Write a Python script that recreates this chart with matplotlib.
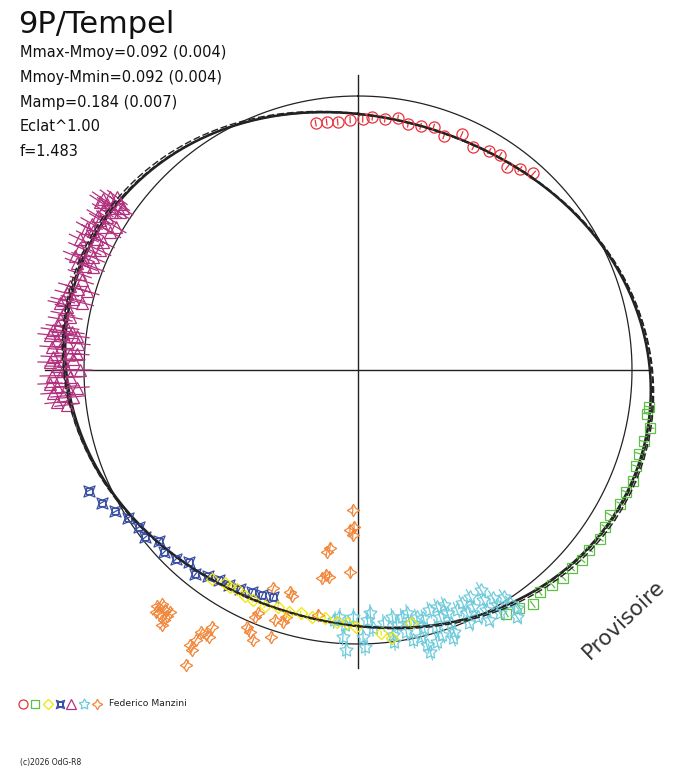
import numpy as np
import matplotlib.pyplot as plt
from matplotlib.path import Path

plt.rcParams['font.family'] = ['DejaVu Sans']

# phase (0..1, clockwise from top) and Mmoy - M (mag), one pair per measure
red_phase = [0.973, 0.980, 0.987, 0.995, 0.003, 0.009, 0.017, 0.025, 0.032, 0.040,
             0.048, 0.056, 0.066, 0.076, 0.086, 0.093, 0.101, 0.108, 0.116]
red_dm = [-0.098, -0.100, -0.105, -0.099, -0.096, -0.086, -0.090, -0.079, -0.096, -0.093,
          -0.082, -0.103, -0.069, -0.095, -0.078, -0.068, -0.093, -0.066, -0.044]

green_phase = [0.270, 0.274, 0.281, 0.289, 0.296, 0.303, 0.311, 0.318, 0.325, 0.333, 0.340,
               0.347, 0.355, 0.362, 0.369, 0.376, 0.383, 0.391, 0.398, 0.405, 0.413]
green_dm = [0.080, 0.076, 0.099, 0.086, 0.080, 0.085, 0.093, 0.085, 0.085, 0.068, 0.078,
            0.088, 0.079, 0.082, 0.073, 0.075, 0.065, 0.054, 0.076, 0.055, 0.046]

yellow_phase = [0.597, 0.589, 0.585, 0.580, 0.574, 0.568, 0.560, 0.552, 0.544, 0.537,
                0.529, 0.521, 0.513, 0.507, 0.501, 0.486, 0.480, 0.467]
yellow_dm = [-0.082, -0.095, -0.092, -0.099, -0.089, -0.088, -0.085, -0.100, -0.093, -0.102,
             -0.095, -0.099, -0.088, -0.087, -0.071, -0.041, -0.016, -0.064]

blue_phase = [0.683, 0.674, 0.666, 0.659, 0.651, 0.644, 0.637, 0.630, 0.622, 0.615,
              0.607, 0.600, 0.593, 0.586, 0.579, 0.571, 0.564, 0.557]
blue_dm = [0.088, 0.060, 0.029, -0.002, -0.021, -0.014, -0.048, -0.033, -0.048, -0.076,
           -0.054, -0.080, -0.092, -0.099, -0.105, -0.117, -0.124, -0.132]

magenta_phase = [0.844, 0.847, 0.849, 0.847, 0.843, 0.843, 0.842, 0.839, 0.841, 0.843,
                 0.846, 0.835, 0.830, 0.834, 0.837, 0.827, 0.827, 0.831, 0.831, 0.835,
                 0.823, 0.820, 0.824, 0.824, 0.816, 0.817, 0.819, 0.811, 0.812, 0.814,
                 0.808, 0.808, 0.809, 0.803, 0.800, 0.795, 0.795, 0.795, 0.791, 0.787,
                 0.789, 0.788, 0.785, 0.784, 0.780, 0.779, 0.777, 0.773, 0.773, 0.771,
                 0.768, 0.770, 0.771, 0.769, 0.766, 0.765, 0.765, 0.762, 0.761, 0.759,
                 0.759, 0.757, 0.755, 0.756, 0.754, 0.752, 0.750, 0.750, 0.747, 0.746,
                 0.746, 0.743, 0.741, 0.741, 0.740, 0.738, 0.736, 0.735, 0.733, 0.731]
magenta_dm = [0.140, 0.118, 0.092, 0.070, 0.085, 0.110, 0.141, 0.113, 0.077, 0.049,
              0.048, 0.119, 0.125, 0.102, 0.083, 0.133, 0.107, 0.077, 0.041, 0.032,
              0.116, 0.137, 0.077, 0.045, 0.125, 0.082, 0.044, 0.131, 0.097, 0.057,
              0.113, 0.074, 0.043, 0.085, 0.068, 0.107, 0.074, 0.033, 0.113, 0.122,
              0.083, 0.043, 0.131, 0.099, 0.110, 0.078, 0.117, 0.084, 0.121, 0.140,
              0.150, 0.097, 0.060, 0.037, 0.119, 0.076, 0.030, 0.137, 0.103, 0.060,
              0.031, 0.130, 0.088, 0.047, 0.142, 0.113, 0.071, 0.017, 0.133, 0.100,
              0.059, 0.143, 0.115, 0.073, 0.031, 0.133, 0.093, 0.051, 0.120, 0.080]

cyan_phase = [0.512, 0.508, 0.509, 0.507, 0.494, 0.492, 0.491, 0.497, 0.496, 0.478,
              0.476, 0.479, 0.479, 0.468, 0.468, 0.471, 0.468, 0.459, 0.460, 0.463,
              0.461, 0.460, 0.449, 0.449, 0.453, 0.451, 0.455, 0.444, 0.444, 0.444,
              0.444, 0.446, 0.433, 0.427, 0.433, 0.428, 0.428, 0.434, 0.419, 0.421,
              0.422, 0.423, 0.415, 0.415, 0.416, 0.409, 0.408, 0.409, 0.406, 0.438,
              0.454, 0.463, 0.472, 0.484, 0.503, 0.515]
cyan_dm = [-0.110, -0.078, -0.027, 0.026, -0.099, -0.128, -0.065, -0.029, 0.013, -0.103,
           -0.067, -0.028, 0.002, -0.109, -0.065, -0.031, 0.006, -0.073, -0.031, 0.002,
           0.040, 0.071, -0.101, -0.057, -0.021, 0.017, 0.038, -0.098, -0.062, -0.020,
           0.022, 0.043, -0.077, -0.087, -0.032, -0.044, 0.002, 0.011, -0.093, -0.051,
           -0.006, 0.036, -0.038, -0.002, 0.031, -0.019, 0.018, 0.082, 0.050, -0.060,
           -0.098, -0.083, -0.096, -0.082, -0.112, -0.095]

orange_phase = [0.612, 0.611, 0.608, 0.609, 0.605, 0.605, 0.611, 0.605, 0.604, 0.586,
                0.583, 0.582, 0.586, 0.585, 0.584, 0.581, 0.587, 0.562, 0.565, 0.563,
                0.562, 0.559, 0.550, 0.551, 0.546, 0.545, 0.559, 0.547, 0.545, 0.526,
                0.527, 0.525, 0.527, 0.525, 0.522, 0.506, 0.506, 0.508, 0.504, 0.505]
orange_dm = [0.150, 0.133, 0.142, 0.168, 0.156, 0.179, 0.172, 0.135, 0.199, 0.133,
             0.129, 0.090, 0.168, 0.215, 0.279, 0.134, 0.201, 0.039, 0.025, -0.027,
             -0.047, 0.067, 0.027, -0.044, -0.046, -0.071, -0.167, -0.174, -0.162, -0.107,
             -0.372, -0.391, -0.262, -0.277, -0.271, -0.299, -0.558, -0.474, -0.488, -0.454]

# typical error of each session (mag)
errors = {'red': 0.012, 'green': 0.015, 'yellow': 0.008, 'blue': 0.012,
          'magenta': 0.05, 'cyan': 0.034, 'orange': 0.018}

# fitted light curves: mean offset, amplitude of 2nd harmonic, phase of maximum
fit_offset = [0.000, 0.006, 0.003]
fit_amp = [0.092, 0.100, 0.096]
fit_phmax = [0.300, 0.302, 0.298]

stats = ["Mmax-Mmoy=0.092 (0.004)", "Mmoy-Mmin=0.092 (0.004)",
         "Mamp=0.184 (0.007)", "Eclat^1.00", "f=1.483"]

R0 = 274.0   # radius of mean magnitude, px
K = 240.0    # px per magnitude
CX, CY = 358.0, 370.0


def to_xy(phase, dm):
    phase = np.asarray(phase, float)
    r = R0 + K * np.asarray(dm, float)
    a = 2 * np.pi * phase
    return CX + r * np.sin(a), CY - r * np.cos(a)


def errbars(ax, phase, dm, err, color):
    dm = np.asarray(dm, float)
    x1, y1 = to_xy(phase, dm - err)
    x2, y2 = to_xy(phase, dm + err)
    nan = np.full_like(x1, np.nan)
    ax.plot(np.column_stack([x1, x2, nan]).ravel(), np.column_stack([y1, y2, nan]).ravel(),
            color=color, lw=0.9, zorder=3)


# blue glyph: square with pointed corners
_s = 0.55
blue_marker = Path.make_compound_path(
    Path([(-_s, -_s), (_s, -_s), (_s, _s), (-_s, _s), (-_s, -_s)],
         [Path.MOVETO, Path.LINETO, Path.LINETO, Path.LINETO, Path.CLOSEPOLY]),
    Path([(-1, -1), (0, -0.6), (1, -1), (0.6, 0), (1, 1), (0, 0.6), (-1, 1), (-0.6, 0), (-1, -1)],
         [Path.MOVETO] + [Path.LINETO] * 7 + [Path.CLOSEPOLY]))

series = [
    (red_phase, red_dm, '#e8323a', 'o', 8.0, 'red'),
    (green_phase, green_dm, '#5fbf46', 's', 7.0, 'green'),
    (magenta_phase, magenta_dm, '#b2327f', '^', 8.0, 'magenta'),
    (orange_phase, orange_dm, '#f2873a', (4, 1, 0), 9.0, 'orange'),
    (blue_phase, blue_dm, '#3b4fa3', blue_marker, 8.0, 'blue'),
    (cyan_phase, cyan_dm, '#6ecbdb', (5, 1, 0), 10.0, 'cyan'),
    (yellow_phase, yellow_dm, '#f2e600', 'D', 6.5, 'yellow'),
]

fig = plt.figure(figsize=(6.88, 7.68), dpi=100)
ax = fig.add_axes([0, 0, 1, 1])
ax.set_xlim(0, 688)
ax.set_ylim(768, 0)
ax.set_aspect('equal')
ax.axis('off')

# axes cross and mean circle
ax.plot([CX, CX], [75, 668], color='#222222', lw=1.0, zorder=1)
ax.plot([45, 650], [CY, CY], color='#222222', lw=1.0, zorder=1)
ph = np.linspace(0, 1, 721)
cx, cy = to_xy(ph, np.zeros_like(ph))
ax.plot(cx, cy, color='#222222', lw=0.9, zorder=1)

# fitted curves
for i, (off, amp, pm) in enumerate(zip(fit_offset, fit_amp, fit_phmax)):
    fx, fy = to_xy(ph, off + amp * np.cos(4 * np.pi * (ph - pm)))
    if i == 0:
        ax.plot(fx, fy, color='#222222', lw=1.8, zorder=2)
    else:
        ax.plot(fx, fy, color='#222222', lw=1.0, ls=(0, (5, 2)), zorder=5)

for p, d, col, mk, ms, key in series:
    errbars(ax, p, d, errors[key], col)
    x, y = to_xy(p, d)
    ax.plot(x, y, ls='none', marker=mk, ms=ms, mfc='none', mec=col, mew=0.9, zorder=4)

# texts
ax.text(18, 33, "9P/Tempel", fontsize=22, color='#111111', va='baseline')
for i, s in enumerate(stats):
    ax.text(20, 57 + i * 24.8, s, fontsize=10.5, color='#111111', va='baseline')
ax.text(624, 620, "Provisoire", fontsize=15.5, color='#333333', rotation=43.5,
        ha='center', va='center', rotation_mode='anchor')

# session legend
leg_x = [22.5, 34.5, 47.5, 59.5, 71, 84, 97]
leg = [('#e8323a', 'o', 6.5), ('#5fbf46', 's', 5.5), ('#f2e600', 'D', 5.0),
       ('#3b4fa3', blue_marker, 6.0), ('#b2327f', '^', 6.5), ('#6ecbdb', (5, 1, 0), 8.0),
       ('#f2873a', (4, 1, 0), 7.5)]
for lx, (col, mk, ms) in zip(leg_x, leg):
    ax.plot([lx], [704], ls='none', marker=mk, ms=ms, mfc='none', mec=col, mew=0.9)
ax.text(109, 704, "Federico Manzini", fontsize=6.7, color='#222222', va='center')
ax.text(20, 763, "(c)2026 OdG-R8", fontsize=5.5, color='#222222', va='center')

fig.savefig('out.png', dpi=100)
